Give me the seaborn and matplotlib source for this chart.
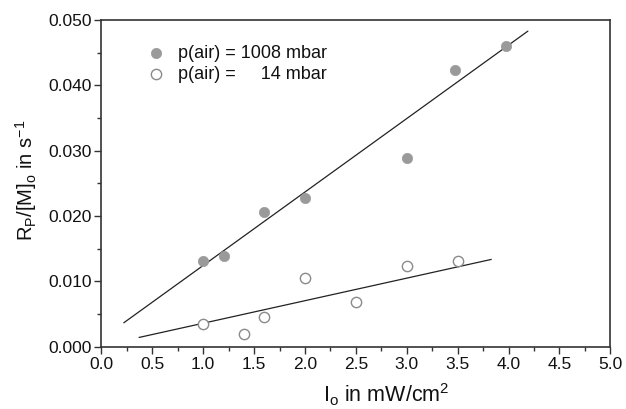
import numpy as np
import pandas as pd
import matplotlib
matplotlib.use("Agg")
import matplotlib.pyplot as plt
import seaborn as sns
from matplotlib.ticker import MultipleLocator, FormatStrFormatter

# Data
x_high = [1.0, 1.2, 1.6, 2.0, 3.0, 3.47, 3.97]
y_high = [0.0132, 0.0139, 0.0206, 0.0228, 0.0289, 0.0423, 0.0460]
x_low = [1.0, 1.4, 1.6, 2.0, 2.5, 3.0, 3.5]
y_low = [0.0035, 0.0019, 0.0046, 0.0105, 0.0069, 0.0123, 0.0131]

# Fitted lines (slope, intercept, x range)
fit_high = {"slope": 0.01124, "intercept": 0.00121, "x": [0.22, 4.19]}
fit_low = {"slope": 0.00345, "intercept": 0.00016, "x": [0.37, 3.83]}

labels = ["p(air) = 1008 mbar", "p(air) =     14 mbar"]

sns.set_theme(style="ticks")
plt.rcParams["font.family"] = ["Liberation Sans", "DejaVu Sans"]
plt.rcParams["mathtext.fontset"] = "custom"
plt.rcParams["mathtext.rm"] = "Liberation Sans"
plt.rcParams["mathtext.it"] = "Liberation Sans"

fig = plt.figure(figsize=(6.26, 4.09), dpi=100)
ax = fig.add_axes([0.162, 0.152, 0.813, 0.799])

df_high = pd.DataFrame({"x": x_high, "y": y_high})
df_low = pd.DataFrame({"x": x_low, "y": y_low})

sns.scatterplot(data=df_high, x="x", y="y", ax=ax, s=55, color="#9a9a9a",
                edgecolor="#9a9a9a", linewidth=0.5, label=labels[0], zorder=3)
sns.scatterplot(data=df_low, x="x", y="y", ax=ax, s=55, facecolor="white",
                edgecolor="#8a8a8a", linewidth=1.0, label=labels[1], zorder=3)

for fit in (fit_high, fit_low):
    xs = np.array(fit["x"])
    sns.lineplot(x=xs, y=fit["slope"] * xs + fit["intercept"], ax=ax,
                 color="#222222", linewidth=0.9, zorder=2)

ax.set_xlim(0, 5.0)
ax.set_ylim(0, 0.050)
ax.xaxis.set_major_locator(MultipleLocator(0.5))
ax.xaxis.set_minor_locator(MultipleLocator(0.25))
ax.yaxis.set_major_locator(MultipleLocator(0.010))
ax.yaxis.set_minor_locator(MultipleLocator(0.005))
ax.xaxis.set_major_formatter(FormatStrFormatter("%.1f"))
ax.yaxis.set_major_formatter(FormatStrFormatter("%.3f"))
ax.tick_params(which="major", direction="out", length=5, width=1.0,
               labelsize=12.5, color="#333333", pad=2, labelcolor="#111111")
ax.tick_params(which="minor", direction="out", length=3, width=1.0,
               color="#333333")
for sp in ax.spines.values():
    sp.set_linewidth(1.2)
    sp.set_color("#333333")

ax.set_xlabel(r"I$_\mathregular{o}$ in mW/cm$^\mathregular{2}$", fontsize=15.5, color="#111111")
ax.xaxis.set_label_coords(0.56, -0.105)
ax.set_ylabel(r"R$_\mathregular{P}$/[M]$_\mathregular{o}$ in s$^\mathregular{-1}$", fontsize=14.5, color="#111111")
ax.yaxis.set_label_coords(-0.122, 0.51)

leg = ax.legend(loc="upper left", bbox_to_anchor=(0.075, 0.945), frameon=False,
                fontsize=13, handletextpad=0.75, labelspacing=0.2,
                borderaxespad=0, handlelength=1.0)
for t in leg.get_texts():
    t.set_color("#111111")

fig.savefig("out.png", dpi=100)
